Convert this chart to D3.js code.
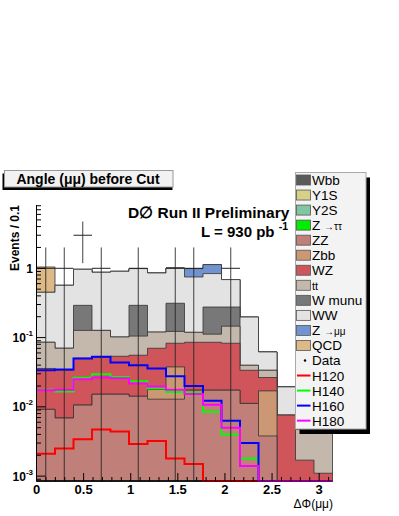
<!DOCTYPE html>
<html><head><meta charset="utf-8">
<script src="https://cdn.jsdelivr.net/npm/d3@7"></script>
<style>
body{margin:0;background:#fff}
svg{display:block}
text{font-family:"Liberation Sans",Arial,Helvetica,sans-serif}
</style>
</head><body>
<svg id="c" width="399" height="516"></svg>
<script>
// ---------------- data (16 bins of pi/16 in DeltaPhi) ----------------
const nBins = 16;
const Wbb   = [0,0,0,0,0,0,0,0,0,0,0,0,0,0,0,0];
const Y1S   = [0,0,0,0,0,0,0,0,0,0,0,0,0,0,0,0];
const Y2S   = [0,0,0,0,0,0,0,0,0,0,0,0,0,0,0,0];
const Ztt   = [0,0,0,0,0,0,0,0,0,0,0,0,0,0,0,0];
const ZZ    = [0.0092,0.0069,0.0106,0.0152,0.0152,0.0142,0.0129,0.0129,0.0174,0.0174,0.0174,0.0112,0.0038,0,0,0];
const Zbb   = [0,0,0,0,0,0,0.0050,0.0248,0,0,0,0,0.0132,0,0,0];
const WZ    = [0.0266,0.0269,0.0397,0.0368,0.0385,0.0414,0.0522,0.0451,0.0681,0.0681,0.0654,0.0225,0.0095,0.0076,0.0017,0.0011];
const tt    = [0.0498,0.0364,0.0767,0.0750,0.0483,0.0494,0.0499,0.0400,0.0335,0.0265,0.0632,0.0061,0.0072,0,0.0030,0.0060];
const Wmunu = [0,0,0.165,0,0,0.187,0,0.190,0,0.164,0.130,0,0,0,0,0];
const WW    = [0.365,0.498,0.675,0.749,0.803,0.698,0.736,0.697,0.630,0.563,0.411,0.158,0.0283,0.0118,0,0];
const Zmm   = [0,0,0,0,0,0,0,0,0.241,0.292,0,0,0,0,0,0];
const QCD   = [0.594,0,0,0,0,0,0,0,0,0,0,0,0,0,0,0];
const dataCounts = [1,1,3,1,0,1,0,1,1,0,1,0,0,0,0,0];
const H120 = [0.0021,0.0025,0.0034,0.0047,0.0044,0.0029,0.0032,0.0018,0.0015,0,0,0,0,0,0,0];
const H140 = [0.0176,0.0167,0.0263,0.0295,0.0269,0.0235,0.0186,0.0164,0.0160,0.0085,0.0040,0.0018,0,0,0,0];
const H160 = [0.0338,0.0347,0.0500,0.0530,0.0436,0.0398,0.0357,0.0276,0.0200,0.0122,0.0063,0.0030,0,0,0,0];
const H180 = [0.0173,0.0177,0.0250,0.0265,0.0259,0.0218,0.0197,0.0177,0.0153,0.0107,0.0050,0.0014,0,0,0,0];
const xTicks = [0,0.5,1,1.5,2,2.5,3];
const yMajor = [0.001,0.01,0.1,1];
const yMajorLabels = [["10","-3"],["10","-2"],["10","-1"],["1",""]];

const bkgNames = ["Wbb","Y1S","Y2S","Z \u2192\u03c4\u03c4","ZZ","Zbb","WZ","tt","W munu","WW","Z \u2192\u03bc\u03bc","QCD"];
const bkgSeries = [Wbb,Y1S,Y2S,Ztt,ZZ,Zbb,WZ,tt,Wmunu,WW,Zmm,QCD];
const bkgColors = ["#5a5a5a","#d6d088","#80c6a2","#00ee00","#c07f78","#cc9874","#cf555b","#c4b8ad","#787878","#e3e3e3","#7193d0","#dcb987"];
const sigNames = ["H120","H140","H160","H180"];
const sigSeries = [H120,H140,H160,H180];
const sigColors = ["#ff0000","#00ff00","#0000ff","#ff00ff"];

// ---------------- layout ----------------
const svg = d3.select("#c");
const X0 = 36.5, X1 = 332.5, YT = 205, YB = 481;
const yMin = 8.5e-4, yMax = 8.2;
const x = d3.scaleLinear().domain([0, Math.PI]).range([X0, X1]);
const y = d3.scaleLog().domain([yMin, yMax]).range([YB, YT]);
const edges = d3.range(nBins + 1).map(i => i * Math.PI / nBins);
const yc = v => y(Math.max(v, yMin));

svg.append("defs").append("clipPath").attr("id","pc")
  .append("rect").attr("x",X0).attr("y",YT).attr("width",X1-X0).attr("height",YB-YT+1);
const plot = svg.append("g").attr("clip-path","url(#pc)");

// stacked backgrounds
const rows = d3.range(nBins).map(i => {
  const r = {};
  bkgNames.forEach((n,k) => r[n] = bkgSeries[k][i]);
  return r;
});
const stacked = d3.stack().keys(bkgNames)(rows);
const stepPts = arr => edges.map((e,i) => ({x:e, v: arr[Math.min(i, nBins-1)]}));
const area = d3.area().curve(d3.curveStepAfter)
  .x(d => x(d.x)).y0(YB).y1(d => yc(d.v));
for (let k = stacked.length - 1; k >= 0; k--) {
  const top = stacked[k].map(d => d[1]);
  plot.append("path").datum(stepPts(top)).attr("d", area)
    .attr("fill", bkgColors[k]).attr("stroke","#333").attr("stroke-opacity",0.8)
    .attr("stroke-width",1);
}

// signal lines
const line = d3.line().curve(d3.curveStepAfter).x(d => x(d.x)).y(d => yc(d.v));
sigSeries.forEach((s,k) => {
  plot.append("path").datum(stepPts(s)).attr("d", line)
    .attr("fill","none").attr("stroke", sigColors[k]).attr("stroke-width",2);
});

// data points
dataCounts.forEach((n,i) => {
  if (n <= 0) return;
  const xc = x((edges[i] + edges[i+1]) / 2);
  const e = Math.sqrt(n);
  plot.append("line").attr("x1", x(edges[i])).attr("x2", x(edges[i+1]))
    .attr("y1", y(n)).attr("y2", y(n)).attr("stroke","#222").attr("stroke-width",1);
  plot.append("line").attr("x1", xc).attr("x2", xc)
    .attr("y1", y(n + e)).attr("y2", yc(n - e) + 2).attr("stroke","#222").attr("stroke-opacity",0.85).attr("stroke-width",1);
});

// ---------------- axes ----------------
const ax = svg.append("g").attr("stroke","#000").attr("stroke-width",1);
ax.append("line").attr("x1",X0).attr("x2",X0).attr("y1",YT).attr("y2",YB);
ax.append("line").attr("x1",X0).attr("x2",X1).attr("y1",YB).attr("y2",YB);
d3.range(0, 3.15, 0.1).forEach(t => {
  const major = Math.abs(t*2 - Math.round(t*2)) < 1e-6;
  ax.append("line").attr("x1",x(t)).attr("x2",x(t)).attr("y1",YB).attr("y2",YB-(major?8:4));
});
[-4,-3,-2,-1,0].forEach(p => {
  for (let m = 1; m <= 9; m++) {
    const v = m * Math.pow(10,p);
    if (v < yMin || v > yMax) continue;
    ax.append("line").attr("x1",X0).attr("x2",X0 + (m===1?9:4.5)).attr("y1",y(v)).attr("y2",y(v));
  }
});
xTicks.forEach(t => {
  svg.append("text").attr("x", x(t)).attr("y", 494).attr("text-anchor","middle")
    .attr("font-size",13).attr("font-weight","bold").text(t);
});
yMajor.forEach((v,i) => {
  const [b, sup] = yMajorLabels[i];
  const t = svg.append("text").attr("x", 33).attr("y", y(v) + 4.5).attr("text-anchor","end")
    .attr("font-size",12).attr("font-weight","bold");
  t.append("tspan").text(b);
  if (sup) t.append("tspan").attr("dy",-6).attr("font-size",8).text(sup);
});
svg.append("text").attr("transform","translate(19,205) rotate(-90)").attr("text-anchor","end")
  .attr("font-size",12).attr("font-weight","bold").text("Events / 0.1");
svg.append("text").attr("x",333).attr("y",508).attr("text-anchor","end")
  .attr("font-size",12).text("\u0394\u03a6(\u03bc\u03bc)");

// ---------------- labels ----------------
svg.append("text").attr("x",128).attr("y",218).attr("font-size",15.5).attr("font-weight","bold")
  .text("D\u2205 Run II Preliminary");
const lt = svg.append("text").attr("x",201).attr("y",237).attr("font-size",15).attr("font-weight","bold");
lt.append("tspan").text("L = 930 pb ");
lt.append("tspan").attr("dy",-7).attr("font-size",10.5).text("-1");

// title box
svg.append("rect").attr("x",2.5).attr("y",173.5).attr("width",170).attr("height",16.5).attr("fill","#000");
svg.append("rect").attr("x",4.5).attr("y",170.5).attr("width",168.5).attr("height",16.5)
  .attr("fill","#f2f2f2").attr("stroke","#999").attr("stroke-width",1);
svg.append("text").attr("x",88).attr("y",184).attr("text-anchor","middle")
  .attr("font-size",14).attr("font-weight","bold").text("Angle (\u03bc\u03bc) before Cut");

// ---------------- legend ----------------
const LX = 295.5, LY = 172.5, LW = 70.5, LH = 256.5;
svg.append("rect").attr("x",LX+4).attr("y",LY+5).attr("width",LW).attr("height",LH).attr("fill","#000");
svg.append("rect").attr("x",LX).attr("y",LY).attr("width",LW).attr("height",LH)
  .attr("fill","#f3f3f3").attr("stroke","#aaa").attr("stroke-width",1);
const lg = svg.append("g");
const rowY = k => 180 + 15.04 * k;
bkgNames.forEach((n,k) => {
  const cy = rowY(k);
  lg.append("rect").attr("x",296.5).attr("y",cy-5).attr("width",14).attr("height",10)
    .attr("fill",bkgColors[k]).attr("stroke","#555").attr("stroke-width",0.8);
  const t = lg.append("text").attr("x",312).attr("y",cy+5).attr("font-size",13.5);
  if (n.startsWith("Z \u2192")) {
    t.append("tspan").text("Z ");
    t.append("tspan").attr("font-size",10).text(n.slice(2));
  } else if (n === "tt") {
    t.attr("font-size",11).text(n);
  } else t.text(n);
});
{
  const cy = rowY(12);
  lg.append("circle").attr("cx",305).attr("cy",cy).attr("r",1.2).attr("fill","#000");
  lg.append("text").attr("x",312).attr("y",cy+5).attr("font-size",13.5).text("Data");
}
sigNames.forEach((n,k) => {
  const cy = rowY(13+k);
  lg.append("line").attr("x1",297).attr("x2",310.5).attr("y1",cy).attr("y2",cy)
    .attr("stroke",sigColors[k]).attr("stroke-width",2);
  lg.append("text").attr("x",312).attr("y",cy+5).attr("font-size",13.5).text(n);
});
</script>
</body></html>
